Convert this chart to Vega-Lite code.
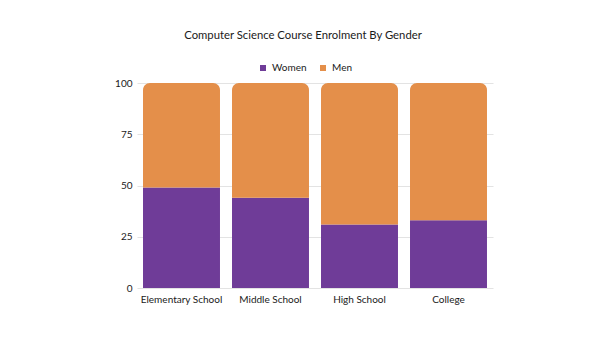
{
  "$schema": "https://vega.github.io/schema/vega-lite/v6.json",
  "autosize": "none",
  "width": 356,
  "height": 205,
  "padding": {"left": 137, "top": 83, "right": 107, "bottom": 50},
  "background": "white",
  "title": {
    "text": "Computer Science Course Enrolment By Gender",
    "anchor": "middle",
    "dx": -12,
    "offset": 22,
    "fontSize": 11.3,
    "fontWeight": "normal",
    "font": "Lato",
    "color": "#1a1a1a"
  },
  "config": {
    "view": {"stroke": null},
    "font": "Lato"
  },
  "data": {
    "values": [
      {"level": "Elementary School", "gender": "Women", "value": 49, "order": 1},
      {"level": "Elementary School", "gender": "Men", "value": 51, "order": 2},
      {"level": "Middle School", "gender": "Women", "value": 44, "order": 1},
      {"level": "Middle School", "gender": "Men", "value": 56, "order": 2},
      {"level": "High School", "gender": "Women", "value": 31, "order": 1},
      {"level": "High School", "gender": "Men", "value": 69, "order": 2},
      {"level": "College", "gender": "Women", "value": 33, "order": 1},
      {"level": "College", "gender": "Men", "value": 67, "order": 2}
    ]
  },
  "mark": {"type": "bar", "cornerRadiusEnd": 7},
  "encoding": {
    "x": {
      "field": "level",
      "type": "nominal",
      "sort": ["Elementary School", "Middle School", "High School", "College"],
      "scale": {"paddingInner": 0.135, "paddingOuter": 0.0675},
      "axis": {
        "title": null,
        "labelAngle": 0,
        "domain": false,
        "ticks": false,
        "labelFontSize": 10,
        "labelColor": "#1a1a1a",
        "labelPadding": 6
      }
    },
    "y": {
      "field": "value",
      "type": "quantitative",
      "stack": "zero",
      "scale": {"domain": [0, 100]},
      "axis": {
        "title": null,
        "values": [0, 25, 50, 75, 100],
        "domain": false,
        "ticks": false,
        "labelFontSize": 10,
        "labelColor": "#1a1a1a",
        "labelPadding": 5,
        "gridColor": "#e3e3e3"
      }
    },
    "color": {
      "field": "gender",
      "type": "nominal",
      "scale": {"domain": ["Women", "Men"], "range": ["#6f3c98", "#e48f4a"]},
      "legend": {
        "title": null,
        "orient": "none",
        "direction": "horizontal",
        "legendX": 121,
        "legendY": -20,
        "symbolType": "square",
        "symbolSize": 36,
        "labelFontSize": 10,
        "labelColor": "#1a1a1a",
        "columnPadding": 11,
        "labelOffset": 4
      }
    },
    "order": {"field": "order", "type": "quantitative"}
  }
}
